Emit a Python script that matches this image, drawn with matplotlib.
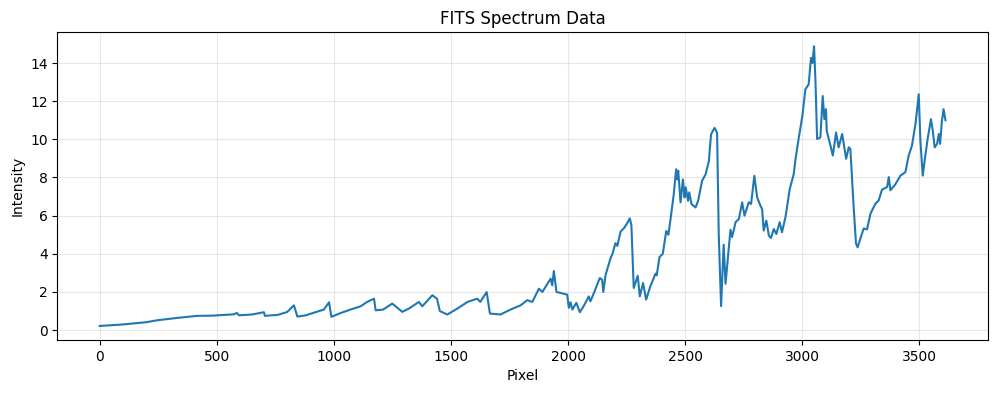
import numpy as np
import matplotlib
matplotlib.use("Agg")
import matplotlib.pyplot as plt

# spectrum (pixel, intensity)
pixel = [0, 100, 200, 246, 300, 330, 417, 480, 573, 585, 595, 650, 701, 705, 760,
         800, 829, 844, 880, 957, 979, 989, 1029, 1071, 1114, 1142, 1171, 1178, 1210,
         1249, 1292, 1320, 1363, 1377, 1420, 1440, 1452, 1484, 1527, 1570, 1612, 1625,
         1652, 1666, 1711, 1754, 1797, 1825, 1847, 1875, 1890, 1925, 1932, 1939, 1950,
         1968, 1996, 2003, 2010, 2018, 2035, 2050, 2070, 2088, 2095, 2110, 2135, 2145,
         2150, 2160, 2181, 2188, 2202, 2210, 2224, 2238, 2252, 2263, 2270, 2280, 2297,
         2306, 2320, 2333, 2351, 2373, 2378, 2390, 2404, 2419, 2428, 2437, 2451, 2461,
         2466, 2470, 2480, 2490, 2497, 2502, 2512, 2517, 2527, 2544, 2555, 2572, 2587,
         2601, 2610, 2625, 2636, 2643, 2653, 2664, 2672, 2686, 2693, 2700, 2715, 2729,
         2743, 2753, 2771, 2781, 2795, 2807, 2821, 2828, 2835, 2846, 2857, 2866, 2878,
         2889, 2903, 2913, 2928, 2946, 2963, 2971, 2985, 3000, 3013, 3027, 3037, 3043,
         3050, 3056, 3063, 3077, 3087, 3094, 3101, 3104, 3120, 3130, 3144, 3155, 3170,
         3187, 3198, 3205, 3219, 3229, 3236, 3248, 3262, 3276, 3291, 3312, 3326, 3340,
         3362, 3369, 3376, 3397, 3419, 3440, 3454, 3468, 3483, 3497, 3504, 3514, 3525,
         3535, 3549, 3557, 3565, 3575, 3583, 3588, 3596, 3603, 3611]
intensity = [0.22, 0.30, 0.42, 0.52, 0.60, 0.64, 0.75, 0.76, 0.83, 0.90, 0.78, 0.82, 0.94,
             0.75, 0.80, 0.95, 1.30, 0.71, 0.78, 1.08, 1.46, 0.70, 0.90, 1.08, 1.25, 1.48,
             1.65, 1.04, 1.08, 1.39, 0.96, 1.13, 1.48, 1.25, 1.83, 1.65, 1.00, 0.82, 1.13,
             1.48, 1.65, 1.48, 2.00, 0.87, 0.82, 1.08, 1.30, 1.57, 1.48, 2.17, 2.00, 2.70,
             2.35, 3.10, 2.00, 1.95, 1.86, 1.17, 1.46, 1.08, 1.43, 0.94, 1.34, 1.77, 1.51,
             1.95, 2.73, 2.64, 2.00, 2.90, 3.77, 3.95, 4.56, 4.42, 5.17, 5.34, 5.60, 5.86,
             5.51, 2.21, 2.85, 1.77, 2.47, 1.60, 2.30, 2.96, 2.87, 3.83, 4.00, 5.20, 5.00,
             5.80, 7.13, 8.43, 7.90, 8.35, 6.70, 7.90, 6.96, 7.48, 6.78, 7.22, 6.60, 6.43,
             6.78, 7.83, 8.17, 8.87, 10.26, 10.60, 10.35, 5.00, 1.26, 4.48, 2.43, 4.30,
             5.26, 4.88, 5.66, 5.83, 6.70, 6.00, 6.70, 6.61, 8.09, 6.96, 6.52, 6.35, 5.22,
             5.74, 4.96, 4.83, 5.30, 5.04, 5.66, 5.13, 5.92, 7.39, 8.17, 8.98, 10.10, 11.23,
             12.62, 12.88, 14.27, 14.00, 14.88, 13.06, 10.02, 10.10, 12.27, 11.06, 11.58,
             10.45, 9.67, 9.15, 10.36, 9.58, 10.28, 8.98, 9.58, 9.50, 6.46, 4.55, 4.34, 4.81,
             5.33, 5.28, 6.11, 6.63, 6.80, 7.36, 7.50, 8.02, 7.33, 7.64, 8.10, 8.28, 9.15,
             9.67, 10.80, 12.36, 9.93, 8.10, 9.15, 10.02, 11.06, 10.45, 9.58, 9.76, 10.28,
             9.76, 10.97, 11.58, 11.00]

fig, ax = plt.subplots(figsize=(9.96, 3.93), dpi=100)
fig.subplots_adjust(left=0.0577, right=0.9917, top=0.918, bottom=0.135)

ax.plot(pixel, intensity, color='tab:blue', linewidth=1.5)
ax.set_title("FITS Spectrum Data")
ax.set_xlabel("Pixel")
ax.set_ylabel("Intensity")
ax.grid(True, alpha=0.3)

fig.savefig("out.png", dpi=100)
